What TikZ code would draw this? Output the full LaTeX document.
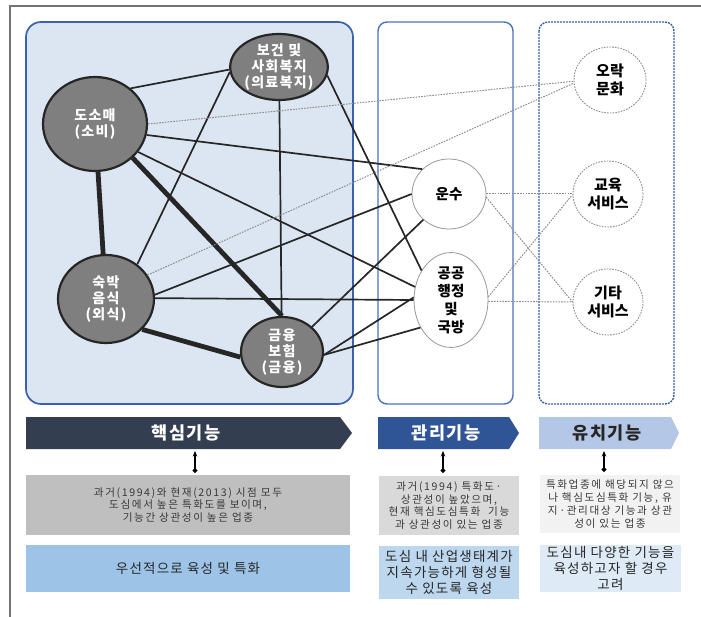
\documentclass[tikz,border=0pt]{standalone}
\usepackage{fontspec}
\setmainfont{Noto Sans CJK KR}
\newfontfamily\krwide[LetterSpace=15]{Noto Sans CJK KR}
\newfontfamily\krmid[LetterSpace=9]{Noto Sans CJK KR}
\usetikzlibrary{shapes.geometric,arrows.meta}
\definecolor{corefill}{HTML}{DCE6F2}
\definecolor{coreline}{HTML}{3A62AE}
\definecolor{mgmtline}{HTML}{4A72BE}
\definecolor{attrline}{HTML}{3A5FA8}
\definecolor{nodegray}{HTML}{7F7F7F}
\definecolor{nodeline}{HTML}{262626}
\definecolor{linkc}{HTML}{262626}
\definecolor{dotc}{HTML}{8C8C8C}
\definecolor{navy}{HTML}{333F50}
\definecolor{midblue}{HTML}{2F5597}
\definecolor{paleblue}{HTML}{B4C7E7}
\definecolor{grayA}{HTML}{BFBFBF}
\definecolor{grayB}{HTML}{D9D9D9}
\definecolor{grayC}{HTML}{F2F2F2}
\definecolor{blueA}{HTML}{9DC3E6}
\definecolor{blueB}{HTML}{BDD7EE}
\definecolor{blueC}{HTML}{DEEBF7}
\definecolor{txtgray}{HTML}{383838}
\begin{document}
\begin{tikzpicture}[x=1pt,y=-1pt,
  darknode/.style={ellipse, draw=nodeline, line width=2.2pt, fill=nodegray, text=white,
    font=\krmid\fontsize{14}{16}\selectfont\bfseries, align=center, inner sep=0pt},
  whitenode/.style={ellipse, draw=black!40, line width=0.8pt, fill=white, text=black,
    font=\fontsize{14.5}{18}\selectfont\bfseries, align=center, inner sep=0pt},
  dotnode/.style={ellipse, draw=dotc, line width=0.9pt, dash pattern=on 1.6pt off 1.2pt,
    text=black, font=\fontsize{15}{17.5}\selectfont\bfseries, align=center, inner sep=0pt},
  link/.style={draw=linkc, line width=1.7pt},
  heavylink/.style={draw=linkc, line width=4.8pt},
  dotlink/.style={draw=dotc, line width=1pt, dash pattern=on 1.6pt off 1.2pt},
  bannertext/.style={font=\krmid\fontsize{17.5}{20}\selectfont\bfseries, inner sep=0pt},
  graybox/.style={inner sep=0pt, align=center, text=txtgray,
    font=\krwide\fontsize{10.6}{12.9}\selectfont},
  bluebox/.style={inner sep=0pt, align=center, text=black!85,
    font=\krmid\fontsize{13.5}{16.3}\selectfont},
  pin/.style={draw=black, line width=1.1pt, {Circle[length=5pt]}-{Stealth[length=5.5pt,width=4.5pt]}}
]
\useasboundingbox (0,0) rectangle (701,617);
% outer frame (top and left edges)
\draw[draw=black!55, line width=1.3pt] (701,6) -- (10,6) -- (10,617);
% group boxes
\draw[draw=coreline, fill=corefill, line width=1.7pt, rounded corners=15pt] (26,22) rectangle (353,404);
\draw[draw=mgmtline, line width=1.4pt, rounded corners=9pt] (378,22) rectangle (513,404);
\draw[draw=attrline, line width=1.4pt, dash pattern=on 2pt off 1pt, rounded corners=9pt] (539,22) rectangle (674,404);

% nodes
\node[darknode, minimum width=74pt, minimum height=66pt] (heal) at (279,67) {보건 및\\사회복지\\(의료복지)};
\node[darknode, minimum width=104pt, minimum height=94pt] (ret) at (95,124) {도소매\\(소비)};
\node[darknode, minimum width=96pt, minimum height=88pt] (acc) at (106,299) {숙박\\음식\\(외식)};
\node[darknode, minimum width=82pt, minimum height=70pt] (fin) at (282,352) {금융\\보험\\(금융)};
\node[whitenode, minimum width=74pt, minimum height=70pt] (trans) at (449,194) {운수};
\node[whitenode, minimum width=74pt, minimum height=66pt] (pub) at (451,300) {공공\\행정\\및\\국방};
\node[dotnode, minimum width=72pt, minimum height=66pt] (ent) at (610,80) {오락\\문화};
\node[dotnode, minimum width=70pt, minimum height=66pt] (edu) at (608,194) {교육\\서비스};
\node[dotnode, minimum width=70pt, minimum height=66pt] (etc) at (608,302) {기타\\서비스};

% solid links
\draw[link] (ret.45) -- (heal.183);
\draw[heavylink] (ret) -- (acc);
\draw[heavylink] (ret.-42) -- (fin.north);
\draw[link] (ret.-12) -- (trans.137);
\draw[link] (ret.-33) -- (pub.160);
\draw[link] (heal.186) -- (acc.48);
\draw[link] (heal) -- (fin);
\draw[link] (heal.-10) -- (pub.135);
\draw[link] (acc.5) -- (trans.180);
\draw[link] (acc.1) -- (pub.180);
\draw[heavylink] (acc.-40) -- (fin.187);
\draw[link] (fin.40) -- (trans.225);
\draw[link] (fin.-4) -- (pub.176);
\draw[link] (fin.-4) -- (pub.222);
% dotted links
\draw[dotlink] (ret.0) -- (ent.182);
\draw[dotlink] (acc.30) -- (ent.185);
\draw[dotlink] (trans.0) -- (edu.180);
\draw[dotlink] (trans.-5) -- (etc.180);
\draw[dotlink] (pub.5) -- (edu.181);
\draw[dotlink] (pub.-2) -- (etc.180);

% banners
\fill[navy] (26,417) -- (340,417) -- (352,433) -- (340,449) -- (26,449) -- cycle;
\node[bannertext, text=white] (bcore) at (186,433) {핵심기능};
\fill[midblue] (378,417) -- (509,417) -- (519,433) -- (509,449) -- (378,449) -- cycle;
\node[bannertext, text=white] (bmgmt) at (446,433) {관리기능};
\fill[paleblue] (539,417) -- (671,417) -- (679,433) -- (671,449) -- (539,449) -- cycle;
\node[bannertext, text=black!85] (battr) at (607,433) {유치기능};

% description boxes
\node[graybox, fill=grayA, minimum width=324pt, minimum height=60pt] (gcore) at (188,505)
  {과거(1994)와 현재(2013) 시점 모두\\도심에서 높은 특화도를 보이며,\\기능간 상관성이 높은 업종};
\node[graybox, fill=grayB, minimum width=140pt, minimum height=59pt] (gmgmt) at (449,505.5)
  {과거(1994) 특화도·\\상관성이 높았으며,\\현재 핵심도심특화\ \ 기능\\과 상관성이 있는 업종};
\node[graybox, fill=grayC, minimum width=140pt, minimum height=58pt] (gattr) at (610,504)
  {특화업종에 해당되지 않으\\나 핵심도심특화 기능, 유\\지·관리대상 기능과 상관\\성이 있는 업종};
\node[bluebox, fill=blueA, minimum width=324pt, minimum height=47pt] (ucore) at (188,568.5)
  {우선적으로 육성 및 특화};
\node[bluebox, fill=blueB, minimum width=140pt, minimum height=53pt] (umgmt) at (449,572.5)
  {도심 내 산업생태계가\\지속가능하게 형성될\\수 있도록 육성};
\node[bluebox, fill=blueC, minimum width=141pt, minimum height=47pt] (uattr) at (610.5,568.5)
  {도심내 다양한 기능을\\육성하고자 할 경우\\고려};

% pins between banners and boxes
\coordinate (p1a) at (195,473); \coordinate (p1b) at (195,451);
\coordinate (p2a) at (443,473); \coordinate (p2b) at (443,451);
\coordinate (p3a) at (604,472); \coordinate (p3b) at (604,451);
\draw[pin] (p1a) -- (p1b);
\draw[pin] (p2a) -- (p2b);
\draw[pin] (p3a) -- (p3b);
\end{tikzpicture}
\end{document}
